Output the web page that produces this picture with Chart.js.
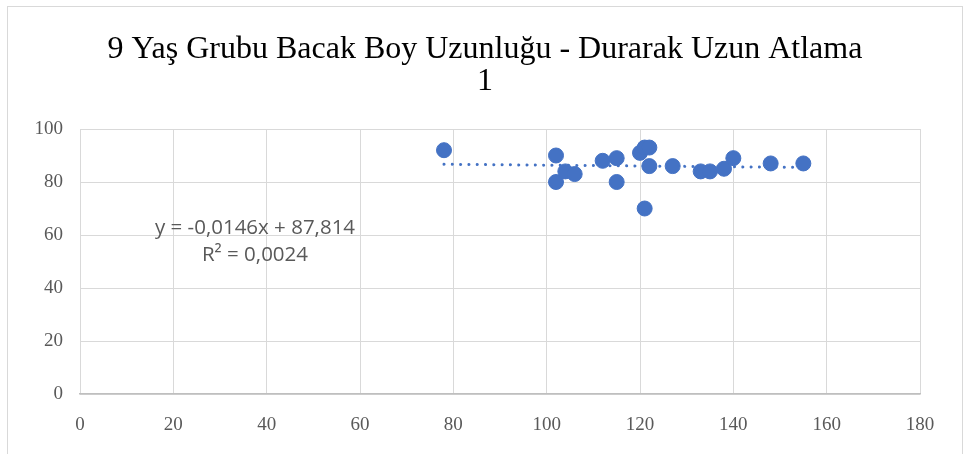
<!DOCTYPE html>
<html>
<head>
<meta charset="utf-8">
<script src="https://cdn.jsdelivr.net/npm/chart.js@4"></script>
<style>
  html, body { margin: 0; padding: 0; background: #fff; }
  #wrap { width: 968px; height: 454px; }
</style>
</head>
<body>
<div id="wrap"><canvas id="myChart" width="968" height="454"></canvas></div>
<script>
const ctx = document.getElementById('myChart');

// bacak boy uzunluğu (cm) / durarak uzun atlama
const boyX = [78, 102, 102, 104, 106, 112, 115, 115, 120, 121, 122, 122, 121, 127, 133, 135, 138, 140, 148, 155];
const atlamaY = [92, 90, 80, 84, 83, 88, 89, 80, 91, 93, 93, 86, 70, 86, 84, 84, 85, 89, 87, 87];

// trend çizgisi uç noktaları
const trendX = [78, 155];
const trendY = [86.7, 85.5];

const xTicks = [0, 20, 40, 60, 80, 100, 120, 140, 160, 180];
const yTicks = [0, 20, 40, 60, 80, 100];

const titleLines = ['9 Yaş Grubu Bacak Boy Uzunluğu - Durarak Uzun Atlama', '1'];
const eqLines = ['y = -0,0146x + 87,814', 'R² = 0,0024'];

const noktalar = boyX.map((x, i) => ({ x: x, y: atlamaY[i] }));
const trend = trendX.map((x, i) => ({ x: x, y: trendY[i] }));

const extras = {
    id: 'extras',
    beforeDraw(chart) {
        const c = chart.ctx;
        c.save();
        c.fillStyle = '#fff';
        c.fillRect(0, 0, chart.width, chart.height);
        c.strokeStyle = '#d9d9d9';
        c.lineWidth = 1;
        c.strokeRect(7.5, 6.5, 955, 470);
        c.restore();
    },
    afterDatasetsDraw(chart) {
        const c = chart.ctx;
        const xs = chart.scales.x, ys = chart.scales.y;
        const cx = xs.getPixelForValue(37.5);
        const cy = ys.getPixelForValue(62.7);
        c.save();
        c.font = '20.5px "Open Sans", sans-serif';
        c.fillStyle = '#595959';
        c.textAlign = 'center';
        c.textBaseline = 'middle';
        c.fillText(eqLines[0], cx, cy);
        c.fillText(eqLines[1], cx, cy + 27);
        c.restore();
    }
};

new Chart(ctx, {
    type: 'scatter',
    data: {
        datasets: [{
            label: 'trend',
            data: trend,
            type: 'line',
            showLine: true,
            borderColor: '#4472C4',
            borderWidth: 3,
            borderDash: [0.1, 8.2],
            borderCapStyle: 'round',
            pointRadius: 0,
            fill: false,
            order: 2
        }, {
            label: 'veri',
            data: noktalar,
            backgroundColor: '#4472C4',
            borderColor: '#4472C4',
            pointRadius: 7.5,
            pointHoverRadius: 7.5,
            order: 1
        }]
    },
    options: {
        responsive: false,
        animation: false,
        layout: {
            padding: { left: 34, right: 32, top: 34, bottom: 0 }
        },
        plugins: {
            legend: { display: false },
            tooltip: { enabled: false },
            title: {
                display: true,
                text: titleLines,
                color: '#000',
                font: { family: '"Liberation Serif", "Times New Roman", serif', size: 32, weight: 'normal', lineHeight: 1.0 },
                padding: { top: 0, bottom: 31 }
            }
        },
        scales: {
            x: {
                type: 'linear',
                min: 0,
                max: 180,
                afterBuildTicks: axis => { axis.ticks = xTicks.map(v => ({ value: v })); },
                afterFit: axis => { axis.height = 60; },
                grid: { color: '#d9d9d9', drawTicks: false },
                border: { display: true, color: '#bfbfbf', width: 1.5 },
                ticks: {
                    color: '#595959',
                    padding: 20,
                    font: { family: '"Liberation Serif", "Times New Roman", serif', size: 19 }
                }
            },
            y: {
                type: 'linear',
                min: 0,
                max: 100,
                afterBuildTicks: axis => { axis.ticks = yTicks.map(v => ({ value: v })); },
                afterFit: axis => { axis.width = 46; },
                grid: { color: '#d9d9d9', drawTicks: false },
                border: { display: false },
                ticks: {
                    color: '#595959',
                    padding: 17,
                    font: { family: '"Liberation Serif", "Times New Roman", serif', size: 19 }
                }
            },
            // boş sağ eksen: sadece çizim alanını daraltmak için
            y2: {
                type: 'linear',
                position: 'right',
                min: 0,
                max: 100,
                afterFit: axis => { axis.width = 16; },
                grid: { display: false },
                border: { display: false },
                ticks: { display: false }
            }
        }
    },
    plugins: [extras]
});
</script>
</body>
</html>
